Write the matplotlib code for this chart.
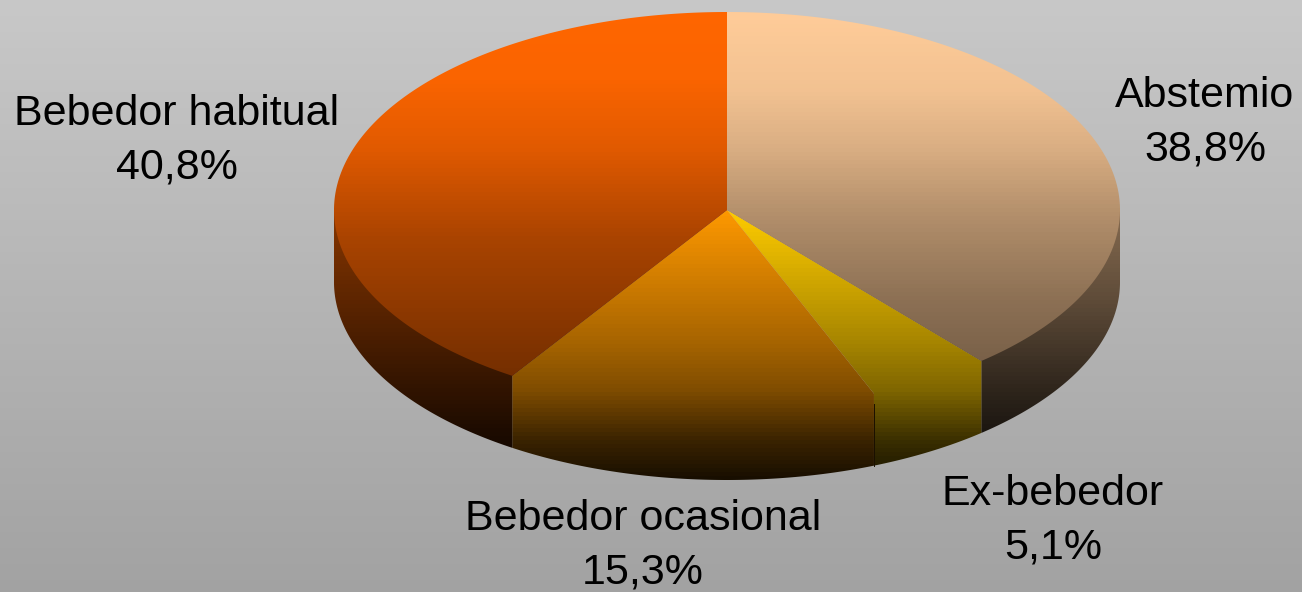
import matplotlib
matplotlib.use('Agg')
import matplotlib.pyplot as plt
import numpy as np
from matplotlib.patches import Polygon

# data
categories = ['Abstemio', 'Ex-bebedor', 'Bebedor ocasional', 'Bebedor habitual']
values = [38.8, 5.1, 15.3, 40.8]
value_labels = ['38,8%', '5,1%', '15,3%', '40,8%']

# colours
slice_colors = ['#FFCC99', '#FFCC00', '#FF9900', '#FF6600']
front_stops = [(210, 1.0), (340, 0.66), (390, 0.5), (440, 0.23), (480, 0.09)]
face_stops = [
    [(12, 1.0), (90, 0.95), (150, 0.85), (215, 0.7), (300, 0.55), (365, 0.47)],
    front_stops,
    front_stops,
    [(12, 1.0), (80, 0.98), (150, 0.88), (240, 0.66), (380, 0.45)],
]
side_stops = [
    [(225, 0.5), (300, 0.37), (380, 0.2), (435, 0.1)],
    front_stops,
    front_stops,
    [(230, 0.5), (375, 0.22), (450, 0.08)],
]

# layout in pixels
W, H = 1302, 592
cx, cy = 727, 210
rx, ry = 393, 198
depth = 72
label_pos = [(1205, 123), (1053, 521), (643, 546), (177, 141)]

fig = plt.figure(figsize=(W / 100, H / 100), dpi=100)
ax = fig.add_axes([0, 0, 1, 1])
ax.set_xlim(0, W)
ax.set_ylim(H, 0)
ax.axis('off')

rows = np.arange(0, H, 4) + 2


def draw_gradient(color, stops, verts):
    shade = np.interp(rows, [s[0] for s in stops], [s[1] for s in stops])
    rgb = np.array(matplotlib.colors.to_rgb(color))
    img = shade[:, None, None] * rgb[None, None, :]
    im = ax.imshow(img, extent=(0, W, H, 0), aspect='auto', interpolation='nearest', zorder=2)
    patch = Polygon(verts, closed=True, transform=ax.transData, fc='none', ec='none')
    ax.add_patch(patch)
    im.set_clip_path(patch)


def arc(t0, t1):
    t = np.radians(np.linspace(t0, t1, max(int(t1 - t0) * 3, 2)))
    return np.column_stack([cx + rx * np.sin(t), cy - ry * np.cos(t)])


# background
bg = (200 - rows * 0.064)[:, None, None] * np.ones((1, 1, 3)) / 255
ax.imshow(bg, extent=(0, W, H, 0), aspect='auto', interpolation='nearest', zorder=0)

edges = np.concatenate([[0], np.cumsum(values)]) * 3.6

# side walls, only the front half of the ellipse shows
# the polygon runs up to the centre so no gap is left under the face edge
for i in range(len(values)):
    t0, t1 = max(edges[i], 90), min(edges[i + 1], 270)
    if t1 <= t0:
        continue
    top = arc(t0, t1)
    bottom = top[::-1] + [0, depth]
    draw_gradient(slice_colors[i], side_stops[i], np.vstack([[cx, cy], top[:1], bottom[::-1], top[-1:]]))

# top faces, the two front slices already got theirs with the wall
for i in range(len(values)):
    if face_stops[i] is side_stops[i]:
        continue
    pts = np.vstack([[cx, cy], arc(edges[i], edges[i + 1])])
    draw_gradient(slice_colors[i], face_stops[i], pts)

# dark seam between the two front walls
seam = arc(edges[2], edges[2] + 0.1)[0]
ax.plot([seam[0], seam[0]], [seam[1] + 10, seam[1] + depth], color='#1a1000', lw=0.7, zorder=3)

# labels
for name, val, (x, y) in zip(categories, value_labels, label_pos):
    ax.text(x, y, name + '\n' + val, ha='center', va='center', fontsize=31,
            family='Liberation Sans', color='black', linespacing=1.44, zorder=4)

ax.set_xlim(0, W)
ax.set_ylim(H, 0)
fig.savefig('out.png', dpi=100)
